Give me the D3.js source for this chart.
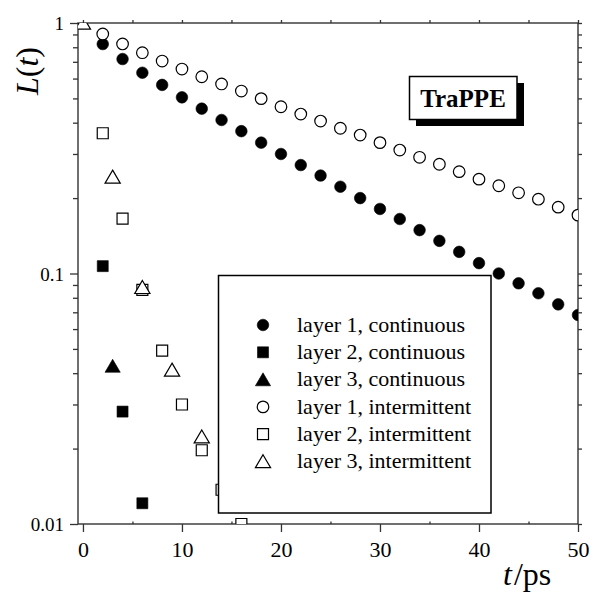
<!DOCTYPE html>
<html>
<head>
<meta charset="utf-8">
<script src="https://cdn.jsdelivr.net/npm/d3@7"></script>
<style>
  body { margin: 0; background: #fff; }
  svg { display: block; }
  text { font-family: "Liberation Serif", "DejaVu Serif", serif; fill: #000; }
</style>
</head>
<body>
<svg id="chart" width="595" height="593"></svg>
<script>
// Survival functions L(t) of water hydrogen bonds per layer (TraPPE model)
const tLayer1 = [2,4,6,8,10,12,14,16,18,20,22,24,26,28,30,32,34,36,38,40,42,44,46,48,50];
const layer1Continuous = [0.824,0.718,0.633,0.566,0.505,0.455,0.410,0.370,0.333,0.300,0.271,0.246,0.222,
                          0.200,0.181,0.165,0.149,0.135,0.122,0.110,0.100,0.0914,0.0834,0.0753,0.0683];
const layer1Intermittent = [0.904,0.825,0.761,0.705,0.655,0.610,0.571,0.535,0.499,0.463,0.433,0.406,0.380,
                            0.357,0.333,0.311,0.291,0.273,0.255,0.238,0.224,0.210,0.198,0.184,0.171];

const tLayer2Continuous = [2,4,6];
const layer2Continuous = [0.107,0.0281,0.0121];
const tLayer3Continuous = [3];
const layer3Continuous = [0.0427];

const tLayer2Intermittent = [2,4,6,8,10,12,14,16];
const layer2Intermittent = [0.363,0.1655,0.086,0.0492,0.0300,0.0197,0.0137,0.0100];
const tLayer3Intermittent = [0,3,6,9,12];
const layer3Intermittent = [1,0.243,0.0881,0.0412,0.0223];

const xMajorTicks = [0,10,20,30,40,50];
const xMinorTicks = [5,15,25,35,45];
const yMajorTicks = [1,0.1,0.01];
const yMajorLabels = ["1","0.1","0.01"];
const yMinorTicks = [0.02,0.03,0.04,0.05,0.06,0.07,0.08,0.09,0.2,0.3,0.4,0.5,0.6,0.7,0.8,0.9];

const legendLabels = ["layer 1, continuous","layer 2, continuous","layer 3, continuous",
                      "layer 1, intermittent","layer 2, intermittent","layer 3, intermittent"];
const modelName = "TraPPE";

const series = [
  {t: tLayer1, v: layer1Continuous, shape: "circle", filled: true},
  {t: tLayer2Continuous, v: layer2Continuous, shape: "square", filled: true},
  {t: tLayer3Continuous, v: layer3Continuous, shape: "triangle", filled: true},
  {t: tLayer1, v: layer1Intermittent, shape: "circle", filled: false},
  {t: tLayer2Intermittent, v: layer2Intermittent, shape: "square", filled: false},
  {t: tLayer3Intermittent, v: layer3Intermittent, shape: "triangle", filled: false}
];

const svg = d3.select("#chart");
const plotLeft = 78, plotRight = 578, plotTop = 23, plotBottom = 524;

const x = d3.scaleLinear().domain([-0.5, 50]).range([plotLeft, plotRight]);
const y = d3.scaleLog().domain([0.01, 1]).range([plotBottom, plotTop]);

// marker outline centred on (0,0)
function markerPath(shape) {
  if (shape === "circle") {
    const p = d3.path();
    p.arc(0, 0, 5.8, 0, 2 * Math.PI);
    p.closePath();
    return p.toString();
  }
  if (shape === "square") return "M-5.5,-5.5H5.5V5.5H-5.5Z";
  return "M0,-6.8L7.6,6.2H-7.6Z";
}
function styleMarker(sel, filled) {
  sel.attr("fill", filled ? "#000" : "#fff")
     .attr("stroke", "#000")
     .attr("stroke-width", filled ? 0.6 : 1.2);
}

svg.append("defs").append("clipPath").attr("id", "plotClip")
  .append("rect").attr("x", plotLeft).attr("y", plotTop)
  .attr("width", plotRight - plotLeft).attr("height", plotBottom - plotTop);

// axes
const axisColor = "#333";
function styleAxis(g) {
  g.select(".domain").remove();
  g.selectAll("line").attr("stroke", axisColor).attr("stroke-width", 1.3);
}

svg.append("g").attr("transform", `translate(0,${plotBottom})`)
  .call(d3.axisBottom(x).tickValues(xMajorTicks).tickSize(8).tickFormat(d3.format("d")))
  .call(styleAxis)
  .call(g => g.selectAll("text").attr("y", 33).attr("dy", null)
              .style("font-size", "22px").style("font-family", "Liberation Serif"));
svg.append("g").attr("transform", `translate(0,${plotBottom})`)
  .call(d3.axisBottom(x).tickValues(xMinorTicks).tickSize(-2.5).tickFormat(""))
  .call(styleAxis);
svg.append("g").attr("transform", `translate(0,${plotTop})`)
  .call(d3.axisTop(x).tickValues(xMajorTicks.concat(xMinorTicks)).tickSize(3).tickFormat(""))
  .call(styleAxis);

svg.append("g").attr("transform", `translate(${plotLeft},0)`)
  .call(d3.axisLeft(y).tickValues(yMajorTicks).tickSize(8)
        .tickFormat((d, i) => yMajorLabels[i]))
  .call(styleAxis)
  .call(g => g.selectAll("text").attr("x", -14).attr("dy", "0.35em")
              .style("font-size", "19px").style("font-family", "Liberation Serif"));
svg.append("g").attr("transform", `translate(${plotLeft},0)`)
  .call(d3.axisLeft(y).tickValues(yMinorTicks).tickSize(5).tickFormat(""))
  .call(styleAxis);
svg.append("g").attr("transform", `translate(${plotRight},0)`)
  .call(d3.axisRight(y).tickValues(yMinorTicks.concat(yMajorTicks)).tickSize(4).tickFormat(""))
  .call(styleAxis);

// frame
svg.append("rect").attr("x", plotLeft).attr("y", plotTop)
  .attr("width", plotRight - plotLeft).attr("height", plotBottom - plotTop)
  .attr("fill", "none").attr("stroke", axisColor).attr("stroke-width", 1.4);

// data markers
const plot = svg.append("g").attr("clip-path", "url(#plotClip)");
series.forEach(s => {
  const pts = s.t.map((t, i) => ({t, v: s.v[i]}));
  plot.append("g").selectAll("path").data(pts).join("path")
    .attr("d", markerPath(s.shape))
    .attr("transform", d => `translate(${x(d.t)},${y(d.v)})`)
    .call(sel => styleMarker(sel, s.filled));
});

// legend
const legend = svg.append("g");
legend.append("rect").attr("x", 218.5).attr("y", 275.5).attr("width", 272.5).attr("height", 237.5)
  .attr("fill", "#fff").attr("stroke", "#000").attr("stroke-width", 1.5);
series.forEach((s, i) => {
  const cy = 325 + i * 27.3;
  legend.append("path").attr("d", markerPath(s.shape))
    .attr("transform", `translate(263,${cy})`)
    .call(sel => styleMarker(sel, s.filled));
  legend.append("text").attr("x", 297).attr("y", cy + 6.8)
    .style("font-size", "22px").text(legendLabels[i]);
});

// model name tag with drop shadow
const tag = svg.append("g");
tag.append("rect").attr("x", 416).attr("y", 83).attr("width", 108).attr("height", 43).attr("fill", "#000");
tag.append("rect").attr("x", 409.5).attr("y", 76.5).attr("width", 107.5).attr("height", 43)
  .attr("fill", "#fff").attr("stroke", "#000").attr("stroke-width", 1.5);
tag.append("text").attr("x", 463).attr("y", 106.5).attr("text-anchor", "middle")
  .style("font-size", "25px").style("font-weight", "bold").text(modelName);

// axis titles
const yTitle = svg.append("text")
  .attr("transform", "translate(38,71) rotate(-90)")
  .attr("text-anchor", "middle").style("font-size", "32px");
yTitle.append("tspan").style("font-style", "italic").text("L");
yTitle.append("tspan").text("(");
yTitle.append("tspan").style("font-style", "italic").text("t");
yTitle.append("tspan").text(")");

const xTitle = svg.append("text").attr("x", 503).attr("y", 585).style("font-size", "32px");
xTitle.append("tspan").style("font-style", "italic").text("t");
xTitle.append("tspan").attr("dx", 2).text("/ps");
</script>
</body>
</html>
